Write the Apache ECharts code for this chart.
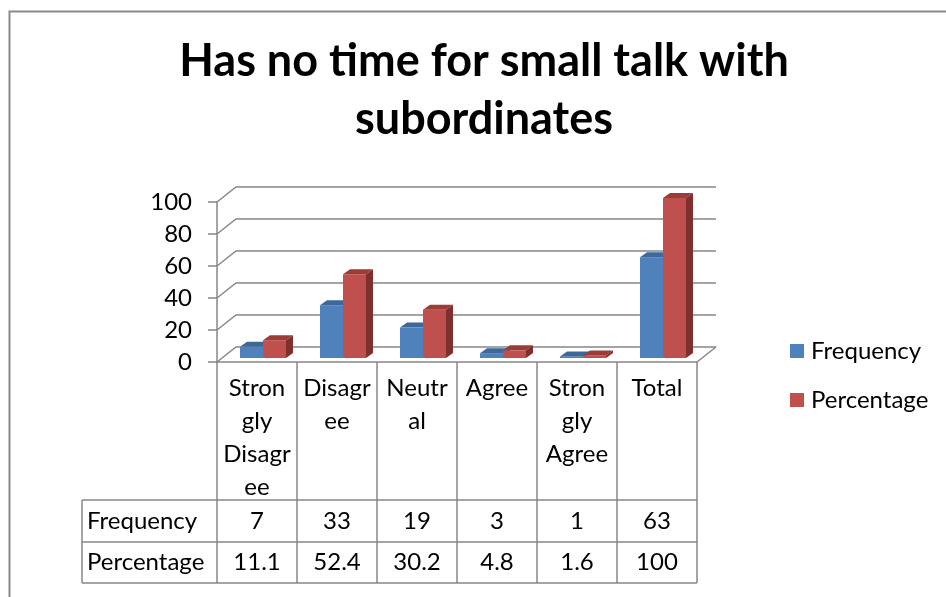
<!DOCTYPE html>
<html>
<head>
<meta charset="utf-8">
<script src="https://cdn.jsdelivr.net/npm/echarts@6/dist/echarts.min.js"></script>
<style>
  html, body { margin: 0; padding: 0; background: #fff; }
  #chart { width: 946px; height: 597px; }
</style>
</head>
<body>
<div id="chart"></div>
<script>
// data
var categories = ['Strongly Disagree', 'Disagree', 'Neutral', 'Agree', 'Strongly Agree', 'Total'];
// how the cell text wraps in the data table
var tableLabels = ['Stron\ngly\nDisagr\nee', 'Disagr\nee', 'Neutr\nal', 'Agree', 'Stron\ngly\nAgree', 'Total'];
var frequency = [7, 33, 19, 3, 1, 63];
var percentage = [11.1, 52.4, 30.2, 4.8, 1.6, 100];
var seriesNames = ['Frequency', 'Percentage'];
var yTicks = [0, 20, 40, 60, 80, 100];

var FONT = 'Lato, "Noto Sans", sans-serif';
var FS = 24;
var GRID_COLOR = '#878787';
var DEPTH_X = 19, DEPTH_Y = 15;   // back wall offset
var SHIFT_X = 6, SHIFT_Y = 4;     // bars sit a little behind the front edge
var BAR_W = 23, BAR_DX = 7, BAR_DY = 5;

var faces = [
    {front: '#4F81BD', top: '#3D6899', side: '#385D8A'},
    {front: '#C0504D', top: '#9C3C39', side: '#7F2F2D'}
];

var myChart = echarts.init(document.getElementById('chart'));

function renderWall(params, api) {
    var v = api.value(1);
    var y = api.coord([0, v])[1];
    var cs = params.coordSys;
    var x0 = cs.x, x1 = cs.x + cs.width;
    var children = [{
        type: 'polyline',
        shape: {points: [[x0, y], [x0 + DEPTH_X, y - DEPTH_Y], [x1 + DEPTH_X, y - DEPTH_Y]]},
        style: {stroke: GRID_COLOR, lineWidth: 1.5, fill: null}
    }];
    if (v === 0) {
        children.push({
            type: 'line',
            shape: {x1: x1, y1: y, x2: x1 + DEPTH_X, y2: y - DEPTH_Y},
            style: {stroke: GRID_COLOR, lineWidth: 1.5}
        });
    }
    return {type: 'group', children: children};
}

function renderBar(params, api) {
    var i = api.value(0), v = api.value(1);
    var base = api.coord([i, 0]);
    var top = api.coord([i, v]);
    var s = params.seriesIndex - 1;
    var c = faces[s];
    var x0 = base[0] + SHIFT_X + (s === 0 ? -BAR_W : 0);
    var x1 = x0 + BAR_W;
    var y0 = base[1] - SHIFT_Y;
    var y1 = top[1] - SHIFT_Y;
    return {
        type: 'group',
        children: [
            {type: 'rect', shape: {x: x0, y: y1, width: BAR_W, height: y0 - y1}, style: {fill: c.front}},
            {type: 'polygon', shape: {points: [[x0, y1], [x1, y1], [x1 + BAR_DX, y1 - BAR_DY], [x0 + BAR_DX, y1 - BAR_DY]]}, style: {fill: c.top}},
            {type: 'polygon', shape: {points: [[x1, y1], [x1 + BAR_DX, y1 - BAR_DY], [x1 + BAR_DX, y0 - BAR_DY], [x1, y0]]}, style: {fill: c.side}}
        ]
    };
}

// data table under the chart
var ROW1 = 138, ROW2 = 180, ROW3 = 221, HEAD_LEFT = 82;
function renderTable(params, api) {
    var i = api.value(0);
    var p = api.coord([i, 0]);
    var band = api.size([1, 0])[0];
    var left = p[0] - band / 2, right = p[0] + band / 2;
    var yb = p[1];
    var ls = {stroke: GRID_COLOR, lineWidth: 1.5};
    var tx = {font: FS + 'px ' + FONT, fill: '#000', textAlign: 'center', textVerticalAlign: 'middle'};
    var hx = i === 0 ? HEAD_LEFT : left;
    var children = [
        {type: 'line', shape: {x1: left, y1: yb, x2: left, y2: yb + ROW3}, style: ls},
        {type: 'line', shape: {x1: hx, y1: yb + ROW1, x2: right, y2: yb + ROW1}, style: ls},
        {type: 'line', shape: {x1: hx, y1: yb + ROW2, x2: right, y2: yb + ROW2}, style: ls},
        {type: 'line', shape: {x1: hx, y1: yb + ROW3, x2: right, y2: yb + ROW3}, style: ls},
        {type: 'text', style: Object.assign({text: String(api.value(1)), x: p[0], y: yb + (ROW1 + ROW2) / 2}, tx)},
        {type: 'text', style: Object.assign({text: String(api.value(2)), x: p[0], y: yb + (ROW2 + ROW3) / 2}, tx)}
    ];
    if (i === categories.length - 1) {
        children.push({type: 'line', shape: {x1: right, y1: yb, x2: right, y2: yb + ROW3}, style: ls});
    }
    if (i === 0) {
        children.push({type: 'line', shape: {x1: HEAD_LEFT, y1: yb + ROW1, x2: HEAD_LEFT, y2: yb + ROW3}, style: ls});
        children.push({type: 'text', style: Object.assign({}, tx, {text: seriesNames[0], x: HEAD_LEFT + 5, y: yb + (ROW1 + ROW2) / 2, textAlign: 'left'})});
        children.push({type: 'text', style: Object.assign({}, tx, {text: seriesNames[1], x: HEAD_LEFT + 5, y: yb + (ROW2 + ROW3) / 2, textAlign: 'left'})});
    }
    return {type: 'group', children: children};
}

myChart.setOption({
    animation: false,
    graphic: [
        {type: 'rect', left: 7, top: 9, shape: {width: 1000, height: 700}, style: {fill: null, stroke: '#8a8a8a', lineWidth: 2}, silent: true},
        {type: 'text', x: 484, y: 32, style: {
            text: 'Has no time for small talk with\nsubordinates', font: 'bold 45px ' + FONT,
            fill: '#000', textAlign: 'center', lineHeight: 58
        }}
    ],
    legend: {
        orient: 'vertical',
        left: 790,
        top: 339,
        padding: 0,
        icon: 'rect',
        itemWidth: 14,
        itemHeight: 14,
        itemGap: 25,
        data: seriesNames,
        textStyle: {fontFamily: FONT, fontSize: FS, color: '#000', padding: [0, 0, 0, 2]}
    },
    grid: {left: 217, top: 202, width: 480, height: 160},
    xAxis: {
        type: 'category',
        data: categories,
        axisLine: {lineStyle: {color: GRID_COLOR, width: 1.5}},
        axisTick: {show: false},
        axisLabel: {
            interval: 0,
            margin: 10,
            fontFamily: FONT,
            fontSize: FS,
            lineHeight: 33,
            color: '#000',
            formatter: function (val, idx) { return tableLabels[idx]; }
        }
    },
    yAxis: {
        type: 'value',
        min: 0,
        max: 100,
        interval: 20,
        axisLine: {show: true, lineStyle: {color: GRID_COLOR, width: 1.5}},
        axisTick: {show: true, length: 9, lineStyle: {color: GRID_COLOR, width: 1.5}},
        splitLine: {show: false},
        axisLabel: {margin: 25, fontFamily: FONT, fontSize: FS, color: '#000'}
    },
    series: [
        {
            type: 'custom',
            name: 'wall',
            renderItem: renderWall,
            data: yTicks.map(function (t) { return [0, t]; }),
            z: 1,
            silent: true
        },
        {
            type: 'custom',
            name: seriesNames[0],
            renderItem: renderBar,
            itemStyle: {color: faces[0].front},
            data: frequency.map(function (v, i) { return [i, v]; }),
            z: 3
        },
        {
            type: 'custom',
            name: seriesNames[1],
            renderItem: renderBar,
            itemStyle: {color: faces[1].front},
            data: percentage.map(function (v, i) { return [i, v]; }),
            z: 3
        },
        {
            type: 'custom',
            name: 'table',
            renderItem: renderTable,
            data: categories.map(function (c, i) { return [i, frequency[i], percentage[i]]; }),
            z: 2,
            silent: true
        }
    ]
});
</script>
</body>
</html>
